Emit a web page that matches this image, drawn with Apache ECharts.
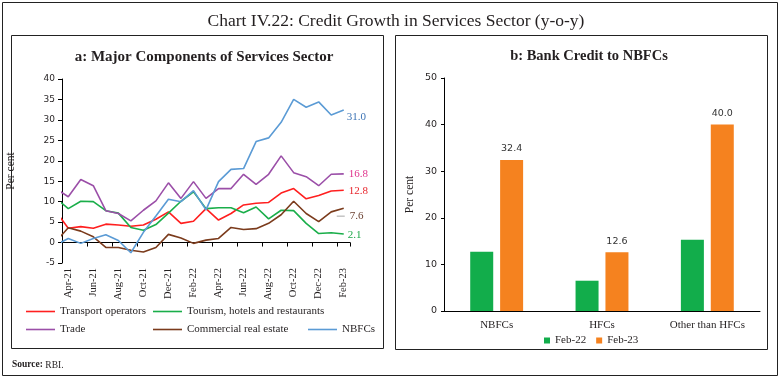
<!DOCTYPE html>
<html>
<head>
<meta charset="utf-8">
<script src="https://cdn.jsdelivr.net/npm/echarts@6.0.0/dist/echarts.min.js"></script>
<style>html,body{margin:0;padding:0;background:#fff}#c{width:781px;height:382px}</style>
</head>
<body>
<div id="c"></div>
<script>
// ---- Panel a data (monthly, y-o-y per cent). First value is Mar-21 lead-in (clipped at the axis edge)
const periods = ['Mar-21','Apr-21','May-21','Jun-21','Jul-21','Aug-21','Sep-21','Oct-21','Nov-21','Dec-21','Jan-22','Feb-22','Mar-22','Apr-22','May-22','Jun-22','Jul-22','Aug-22','Sep-22','Oct-22','Nov-22','Dec-22','Jan-23','Feb-23'];
const months = periods.slice(1);
const transport  = [7.7, 3.5, 3.9, 3.5, 4.5, 4.3, 4.0, 4.3, 5.7, 7.5, 4.7, 5.2, 8.3, 5.5, 7.1, 9.2, 9.6, 9.8, 12.1, 13.2, 10.7, 11.5, 12.6, 12.8];
const tourism    = [10.9, 8.3, 10.1, 10.0, 7.8, 7.2, 3.7, 3.0, 4.4, 7.2, 10.1, 12.4, 8.3, 8.5, 8.5, 7.3, 8.7, 5.8, 7.9, 7.8, 4.7, 2.2, 2.4, 2.1];
const trade      = [13.2, 11.2, 15.4, 13.9, 7.8, 7.1, 5.3, 7.9, 10.2, 14.6, 10.8, 14.9, 10.8, 13.2, 13.2, 16.7, 14.2, 16.7, 21.2, 17.1, 16.1, 13.9, 16.7, 16.8];
const realEstate = [0.2, 3.6, 2.8, 1.4, -1.2, -1.2, -1.9, -2.3, -1.2, 2.0, 1.1, -0.2, 0.6, 1.0, 3.7, 3.2, 3.4, 4.7, 6.8, 10.1, 7.1, 5.1, 7.5, 8.4];
const nbfcs      = [-0.6, 1.0, -0.2, 1.0, 1.9, 0.5, -2.5, 2.5, 6.5, 10.6, 10.0, 12.7, 8.0, 14.9, 17.9, 18.1, 24.7, 25.6, 29.4, 35.0, 33.1, 34.4, 31.2, 32.4];
const seriesNames = ['Transport operators','Tourism, hotels and restaurants','Trade','Commercial real estate','NBFCs'];
const endLabels = ['12.8','2.1','16.8','7.6','31.0'];
const yTicksA = [-5, 40, 5]; // min, max, step

// ---- Panel b data
const bankCats = ['NBFCs','HFCs','Other than HFCs'];
const feb22 = [12.7, 6.5, 15.3];
const feb23 = [32.4, 12.6, 40.0];
const barNames = ['Feb-22','Feb-23'];

const SERIF = 'Liberation Serif';
const SANS = 'DejaVu Sans';
const TXT = '#231f20';

function pairs(arr){ return arr.map((v,i)=>[i-1, v]); }

const lineColors = ['#ff1f1f','#1aae4a','#9b4fa8','#7b3b1c','#5b9bd5'];
const labelColors = ['#e8242b','#1ea84a','#e0338c','#6b4030','#3d74b5'];
const labelOffsets = [[-3,1],[-4,1],[-3,0],[-15,8],[-5,7]];
const lineData = [transport, tourism, trade, realEstate, nbfcs];

const lineSeries = lineData.map((d,k)=>({
  name: seriesNames[k], type:'line', xAxisIndex:2, yAxisIndex:0,
  data: pairs(d), showSymbol:false, symbol:'none', clip:true,
  lineStyle:{color:lineColors[k], width:1.6}, itemStyle:{color:lineColors[k]},
  endLabel:{show:true, formatter: k===3 ? ('{d| }{t|'+endLabels[k]+'}') : endLabels[k],
    color:labelColors[k], fontFamily:SERIF, fontSize:11, offset:labelOffsets[k],
    rich: k===3 ? {d:{width:8,height:1.5,backgroundColor:'#c4c4c4'}, t:{color:labelColors[k], fontFamily:SERIF, fontSize:11, padding:[0,0,0,5]}} : undefined},
  z: 3
}));

function lineLegend(name, left, top){
  return {data:[name], left:left, top:top, padding:0, icon:'rect', itemWidth:29, itemHeight:1.6,
    textStyle:{fontFamily:SERIF, fontSize:11, color:TXT}, selectedMode:false};
}

const option = {
  animation:false,
  backgroundColor:'#fff',
  title:[
    {text:'Chart IV.22: Credit Growth in Services Sector (y-o-y)', left:391, textAlign:'center', top:7,
     textStyle:{fontFamily:SERIF, fontSize:17.5, fontWeight:'normal', color:TXT}},
    {text:'a: Major Components of Services Sector', left:199, textAlign:'center', top:45,
     textStyle:{fontFamily:SERIF, fontSize:15, fontWeight:'bold', color:TXT}},
    {text:'b: Bank Credit to NBFCs', left:584, textAlign:'center', top:44,
     textStyle:{fontFamily:SERIF, fontSize:14.5, fontWeight:'bold', color:TXT}}
  ],
  graphic:[
    {type:'rect', silent:true, shape:{x:2.5,y:2.5,width:775,height:373}, style:{fill:null, stroke:'#222', lineWidth:1}},
    {type:'rect', silent:true, shape:{x:11.5,y:35.5,width:372,height:313}, style:{fill:null, stroke:'#222', lineWidth:1}},
    {type:'rect', silent:true, shape:{x:395.5,y:35.5,width:372,height:314}, style:{fill:null, stroke:'#222', lineWidth:1}},
    {type:'text', silent:true, left:12, top:360, style:{text:'{b|Source:} RBI.', fontFamily:SERIF, fontSize:9.5, fill:TXT,
      rich:{b:{fontFamily:SERIF, fontSize:9.5, fontWeight:'bold', fill:TXT}}}}
  ],
  legend:[
    lineLegend(seriesNames[0], 26, 306),
    lineLegend(seriesNames[1], 153, 306),
    lineLegend(seriesNames[2], 26, 324),
    lineLegend(seriesNames[3], 153, 324),
    lineLegend(seriesNames[4], 308, 324),
    {data:barNames, left:544, top:335, padding:0, icon:'rect', itemWidth:6, itemHeight:6, itemGap:10,
     textStyle:{fontFamily:SERIF, fontSize:11, color:TXT}, selectedMode:false}
  ],
  grid:[
    {left:62, top:79, width:288, height:184},
    {left:444, top:78, width:316, height:233}
  ],
  xAxis:[
    {type:'category', gridIndex:0, data:months, boundaryGap:true,
     axisLine:{show:true, onZero:true, lineStyle:{color:'#000', width:1}},
     axisTick:{show:true, interval:1, length:4, lineStyle:{color:'#000'}},
     axisLabel:{show:false}, splitLine:{show:false}},
    {type:'category', gridIndex:0, data:months, boundaryGap:true, position:'bottom',
     axisLine:{show:false, onZero:false}, axisTick:{show:false},
     axisLabel:{show:true, interval:1, rotate:90, margin:5, fontFamily:SERIF, fontSize:10.5, color:TXT},
     splitLine:{show:false}},
    {type:'value', gridIndex:0, min:-0.5, max:22.5, show:false, axisLine:{onZero:false}, splitLine:{show:false}},
    {type:'category', gridIndex:1, data:bankCats, boundaryGap:true,
     axisLine:{show:true, lineStyle:{color:'#000', width:1}}, axisTick:{show:false},
     axisLabel:{fontFamily:SERIF, fontSize:11, color:TXT, margin:9}}
  ],
  yAxis:[
    {type:'value', gridIndex:0, min:yTicksA[0], max:yTicksA[1], interval:yTicksA[2],
     axisLine:{show:true, onZero:false, lineStyle:{color:'#000', width:1}},
     axisTick:{show:true, length:4, lineStyle:{color:'#000'}},
     axisLabel:{fontFamily:SANS, fontSize:9, color:TXT, margin:7},
     splitLine:{show:false},
     name:'Per cent', nameLocation:'middle', nameGap:45, nameRotate:90,
     nameTextStyle:{fontFamily:SERIF, fontSize:11.5, color:TXT}},
    {type:'value', gridIndex:1, min:0, max:50, interval:10,
     axisLine:{show:true, onZero:false, lineStyle:{color:'#000', width:1}},
     axisTick:{show:true, length:3, lineStyle:{color:'#000'}},
     axisLabel:{fontFamily:SANS, fontSize:9.5, color:TXT, margin:7},
     splitLine:{show:false},
     name:'Per cent', nameLocation:'middle', nameGap:28, nameRotate:90,
     nameTextStyle:{fontFamily:SERIF, fontSize:11.5, color:TXT}}
  ],
  series: lineSeries.concat([
    {name:barNames[0], type:'bar', xAxisIndex:3, yAxisIndex:1, data:feb22, barWidth:23, barGap:'30%',
     itemStyle:{color:'#12ad4b'}},
    {name:barNames[1], type:'bar', xAxisIndex:3, yAxisIndex:1, data:feb23, barWidth:23, barGap:'30%',
     itemStyle:{color:'#f5821f'},
     label:{show:true, position:'top', distance:6, fontFamily:SANS, fontSize:9.5, color:'#333',
       formatter:(p)=>p.value.toFixed(1)}}
  ])
};

const chart = echarts.init(document.getElementById('c'), null, {renderer:'canvas'});
chart.setOption(option);
</script>
</body>
</html>
